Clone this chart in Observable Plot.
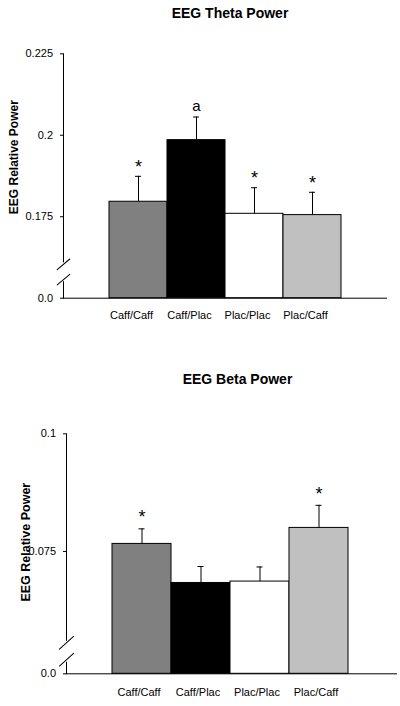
<!DOCTYPE html>
<html><head><meta charset="utf-8">
<script src="https://cdn.jsdelivr.net/npm/d3@7"></script>
<script src="https://cdn.jsdelivr.net/npm/@observablehq/plot@0.6"></script>
<style>
body{margin:0;background:#fff;}
#wrap{position:relative;width:400px;height:706px;overflow:hidden;font-family:"Liberation Sans",Arial,Helvetica,sans-serif;color:#000;}
.title{position:absolute;font-weight:bold;font-size:14px;white-space:nowrap;transform:translate(-50%,-50%);line-height:1;}
.chart{position:absolute;left:0;}
</style></head><body>
<div id="wrap">
<div class="title" style="left:230px;top:12.5px">EEG Theta Power</div>
<div class="chart" id="c1" style="top:24px"></div>
<div class="title" style="left:237.5px;top:379px">EEG Beta Power</div>
<div class="chart" id="c2" style="top:392px"></div>
</div>
<script>
// ---- data ----
const conditions = ["Caff/Caff", "Caff/Plac", "Plac/Plac", "Plac/Caff"];

const thetaMean = [0.1796, 0.1985, 0.1759, 0.1755];
const thetaSE   = [0.0078, 0.0071, 0.0080, 0.0070];
const thetaMarks = ["*", "a", "*", "*"];
const thetaTicks = [0.15, 0.175, 0.2, 0.225];
const thetaTickLabels = ["0.0", "0.175", "0.2", "0.225"];
const thetaBreaks = [0.1557, 0.1604];

const betaMean = [0.0766, 0.0683, 0.0686, 0.0800];
const betaSE   = [0.0032, 0.0035, 0.0031, 0.0048];
const betaMarks = ["*", "", "", "*"];
const betaTicks = [0.049, 0.075, 0.1];
const betaTickLabels = ["0.0", "0.075", "0.1"];
const betaBreaks = [0.0520, 0.0556];

const yLabel = "EEG Relative Power";
const barColors = ["#808080", "#000000", "#ffffff", "#c0c0c0"];

function makeChart(o) {
  const data = conditions.map((c, i) => ({
    cond: c, value: o.means[i], top: o.means[i] + o.ses[i], mark: o.marks[i]
  }));
  const base = o.ticks[0];
  const yMax = o.ticks[o.ticks.length - 1];
  return Plot.plot({
    width: 400,
    height: o.height,
    marginTop: o.marginTop,
    marginBottom: o.marginBottom,
    marginLeft: o.marginLeft,
    marginRight: o.marginRight,
    style: {fontFamily: '"Liberation Sans", Arial, Helvetica, sans-serif', fontSize: "11px", background: "white", color: "black", overflow: "visible"},
    x: {type: "band", domain: conditions, paddingInner: 0, paddingOuter: o.paddingOuter, align: o.align, axis: null},
    y: {domain: [base, yMax], axis: null},
    color: {domain: conditions, range: barColors},
    marks: [
      Plot.barY(data, {x: "cond", y1: base, y2: "value", fill: "cond", stroke: "black", strokeWidth: 1}),
      Plot.ruleX(data, {x: "cond", y1: "value", y2: "top", stroke: "black", strokeWidth: 1}),
      Plot.tickY(data, {x: "cond", y: "top", stroke: "black", strokeWidth: 1, insetLeft: o.capInset, insetRight: o.capInset}),
      Plot.text(data.filter(d => d.mark === "*"), {x: "cond", y: "top", text: "mark", dy: o.starDy, fontSize: 18, fill: "black"}),
      Plot.text(data.filter(d => d.mark && d.mark !== "*"), {x: "cond", y: "top", text: "mark", dy: -10.9, fontSize: 15, fill: "black"}),
      Plot.ruleY([base], {stroke: "black", strokeWidth: 1}),
      Plot.frame({anchor: "left", stroke: "black", strokeWidth: 1}),
      Plot.vector([o.breaks[1]], {y: d => d, frameAnchor: "left", rotate: 180, length: o.gapLen, anchor: "start", r: 0, stroke: "white", strokeWidth: 4}),
      Plot.vector(o.breaks, {y: d => d, frameAnchor: "left", rotate: o.slashRotate, length: o.slashLen, anchor: "middle", r: 0, stroke: "black", strokeWidth: 1}),
      Plot.axisY({ticks: o.ticks, tickFormat: d => o.tickLabels[o.ticks.indexOf(d)], tickSize: 3, tickPadding: 7.5, fontSize: 11, label: null}),
      Plot.text(conditions, {x: d => d, frameAnchor: "bottom", dy: o.xLabelDy, dx: o.xLabelDx, fontSize: 11, fill: "black"}),
      Plot.text([yLabel], {text: d => d, frameAnchor: "left", textAnchor: "middle", rotate: -90, dx: o.labelDx, dy: o.labelDy, fontSize: o.labelSize, fontWeight: "bold", fill: "black"})
    ]
  });
}

document.getElementById("c1").append(makeChart({
  means: thetaMean, ses: thetaSE, marks: thetaMarks, ticks: thetaTicks, tickLabels: thetaTickLabels, breaks: thetaBreaks,
  height: 306, marginTop: 29.3, marginBottom: 32.3, marginLeft: 63, marginRight: 13,
  paddingOuter: 0.75, align: 0.5, capInset: 26, starDy: -9.5,
  gapLen: 15, slashRotate: 50, slashLen: 16.5,
  xLabelDy: 20.3, xLabelDx: -7, labelDx: -49.5, labelDy: -18.8, labelSize: 12
}));

document.getElementById("c2").append(makeChart({
  means: betaMean, ses: betaSE, marks: betaMarks, ticks: betaTicks, tickLabels: betaTickLabels, breaks: betaBreaks,
  height: 314, marginTop: 41.3, marginBottom: 32.7, marginLeft: 66, marginRight: 3,
  paddingOuter: 0.77, align: 0.48, capInset: 26.5, starDy: -11.2,
  gapLen: 17, slashRotate: 48, slashLen: 19,
  xLabelDy: 21.7, xLabelDx: -3, labelDx: -41, labelDy: -11.6, labelSize: 12.5
}));
</script>
</body></html>
